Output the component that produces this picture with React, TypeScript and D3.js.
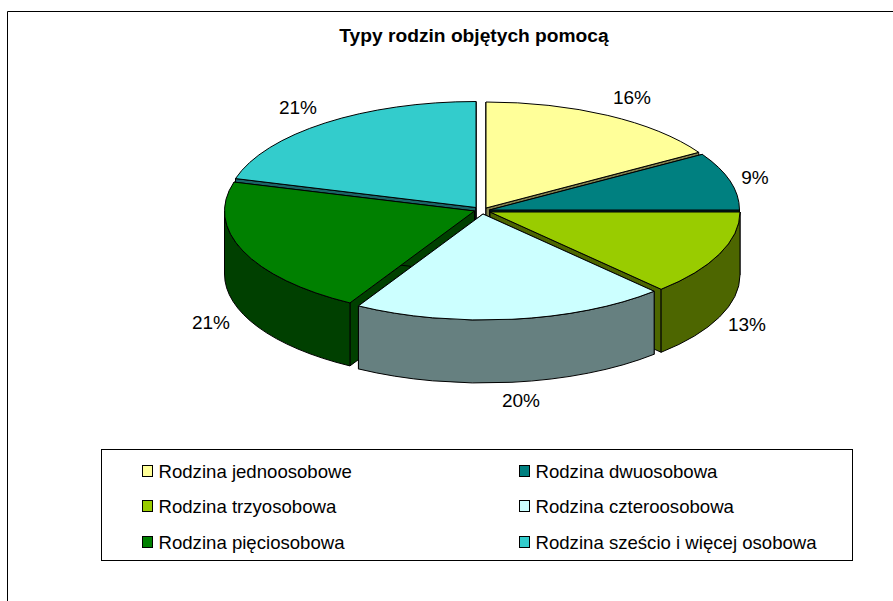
import React from "react";
import * as d3 from "d3";

const categories = [
  "Rodzina jednoosobowe",
  "Rodzina dwuosobowa",
  "Rodzina trzyosobowa",
  "Rodzina czteroosobowa",
  "Rodzina pięciosobowa",
  "Rodzina sześcio i więcej osobowa",
];
const values = [16.2, 8.8, 13, 20.3, 21.1, 20.6];
const topColors = ["#FFFF99", "#008080", "#99CC00", "#CCFFFF", "#008000", "#33CCCC"];
const title = "Typy rodzin objętych pomocą";

// layout only
const W = 893, H = 601, RX = 250, RY = 106, DEPTH = 63;
const apexes: [number, number][] = [[486, 208], [489.5, 210], [490, 212], [483, 214], [474.5, 211], [476, 207.5]];
const labelPos: [number, number][] = [[632, 97], [755, 177], [747, 324], [521, 400], [211, 322], [298, 107]];
const drawOrder = [0, 5, 1, 2, 4, 3];
const fontFamily = "'Liberation Sans', Arial, sans-serif";

const pieGen = d3.pie<number>().sort(null).value((d) => d);
const arcs = pieGen(values);
const pct = d3.format(".0f");
const total = d3.sum(values);

function pt(c: [number, number], t: number, dy = 0): [number, number] {
  return [c[0] + RX * Math.sin(t), c[1] - RY * Math.cos(t) + dy];
}
const fmt = (p: [number, number]) => `${p[0].toFixed(2)},${p[1].toFixed(2)}`;

function topPath(c: [number, number], a: number, b: number) {
  const large = b - a > Math.PI ? 1 : 0;
  return `M${fmt(c)}L${fmt(pt(c, a))}A${RX},${RY} 0 ${large} 1 ${fmt(pt(c, b))}Z`;
}
function wallPath(c: [number, number], t: number) {
  const e = pt(c, t);
  return `M${fmt(c)}L${fmt(e)}L${fmt([e[0], e[1] + DEPTH])}L${fmt([c[0], c[1] + DEPTH])}Z`;
}
function outerPath(c: [number, number], a: number, b: number) {
  const s = Math.max(a, Math.PI / 2);
  const e = Math.min(b, (3 * Math.PI) / 2);
  if (e <= s) return null;
  return `M${fmt(pt(c, s))}A${RX},${RY} 0 0 1 ${fmt(pt(c, e))}L${fmt(pt(c, e, DEPTH))}A${RX},${RY} 0 0 0 ${fmt(pt(c, s, DEPTH))}Z`;
}

export default function App() {
  const legendCols = [142, 519];
  const legendRows = [471, 506, 542];
  return (
    <svg
      width={W}
      height={H}
      viewBox={`0 0 ${W} ${H}`}
      style={{ position: "absolute", left: 0, top: 0, background: "#fff" }}
      fontFamily={fontFamily}
    >
      <path d={`M7.5,${H}V11.5H${W}`} fill="none" stroke="#000" strokeWidth={1} />
      <text x={474} y={42} textAnchor="middle" fontSize={19.2} fontWeight="bold" fill="#000">
        {title}
      </text>
      {drawOrder.map((i) => {
        const d = arcs[i];
        const c = apexes[i];
        const side = d3.rgb(topColors[i]);
        const dark = d3.rgb(side.r / 2, side.g / 2, side.b / 2).formatHex();
        const o = outerPath(c, d.startAngle, d.endAngle);
        return (
          <g key={i} stroke="#000" strokeWidth={1} strokeLinejoin="round">
            <path d={wallPath(c, d.startAngle)} fill={dark} />
            <path d={wallPath(c, d.endAngle)} fill={dark} />
            {o && <path d={o} fill={dark} />}
            <path d={topPath(c, d.startAngle, d.endAngle)} fill={topColors[i]} />
          </g>
        );
      })}
      {values.map((v, i) => (
        <text key={i} x={labelPos[i][0]} y={labelPos[i][1] + 6.5} textAnchor="middle" fontSize={19} fill="#000">
          {pct((v / total) * 100)}%
        </text>
      ))}
      <rect x={101.5} y={449.5} width={751} height={111} fill="#fff" stroke="#000" strokeWidth={1} />
      {categories.map((name, i) => {
        const x = legendCols[i % 2];
        const y = legendRows[Math.floor(i / 2)];
        return (
          <g key={name}>
            <rect x={x + 0.5} y={y - 5.5} width={10} height={11} fill={topColors[i]} stroke="#000" strokeWidth={1} />
            <text x={x + 16.5} y={y + 6.5} fontSize={18.6} fill="#000">
              {name}
            </text>
          </g>
        );
      })}
    </svg>
  );
}
